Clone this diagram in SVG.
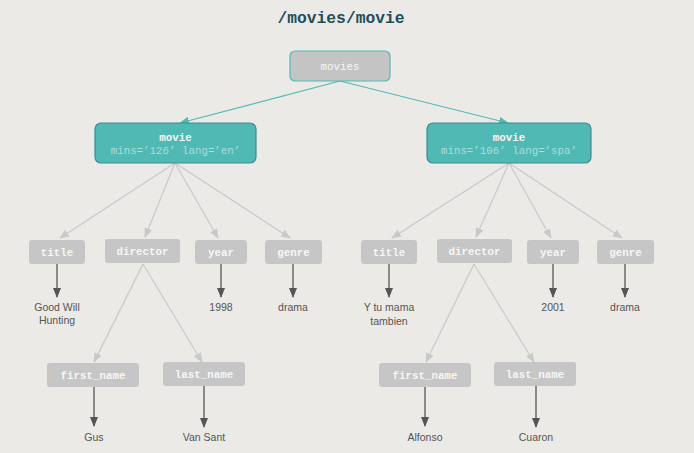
<svg xmlns="http://www.w3.org/2000/svg" width="694" height="453" viewBox="0 0 694 453">
<style>
.bg{fill:#ebeae7}
.title{font-family:"Liberation Mono",monospace;font-weight:bold;font-size:16.3px;fill:#1d4e5a}
.root{fill:#c4c4c4;stroke:#52bab4;stroke-width:1.2}
.movie{fill:#50b9b3;stroke:#3c8d93;stroke-width:1.2}
.box{fill:#c6c6c6}
.mono{font-family:"Liberation Mono",monospace;font-size:10.8px;fill:#f7f7f7;text-anchor:middle}
.b{font-weight:bold}
.attr{font-family:"Liberation Mono",monospace;font-size:10.8px;fill:#a9dedb;text-anchor:middle}
.val{font-family:"Liberation Sans",Arial,sans-serif;font-size:10.5px;fill:#555;text-anchor:middle}
.teal{stroke:#52bab4;stroke-width:1.2;fill:none}
.gray{stroke:#c9c9c9;stroke-width:1.2;fill:none}
.dark{stroke:#555;stroke-width:1.3;fill:none}
</style>
<defs>
<marker id="mt" markerWidth="10" markerHeight="8" refX="9" refY="4" orient="auto" markerUnits="userSpaceOnUse"><path d="M0,0 L10,4 L0,8 Z" fill="#52bab4"/></marker>
<marker id="mg" markerWidth="10" markerHeight="8" refX="9" refY="4" orient="auto" markerUnits="userSpaceOnUse"><path d="M0,0 L10,4 L0,8 Z" fill="#c9c9c9"/></marker>
<marker id="md" markerWidth="10" markerHeight="8" refX="9" refY="4" orient="auto" markerUnits="userSpaceOnUse"><path d="M0,0 L10,4 L0,8 Z" fill="#555"/></marker>
</defs>
<rect class="bg" width="694" height="453"/>
<text class="title" x="341" y="23" text-anchor="middle">/movies/movie</text>

<g id="connectors">
<line class="teal" x1="340" y1="81" x2="180" y2="123" marker-end="url(#mt)"/>
<line class="teal" x1="340" y1="81" x2="508" y2="123" marker-end="url(#mt)"/>
<line class="gray" x1="175" y1="163" x2="60" y2="238" marker-end="url(#mg)"/>
<line class="gray" x1="175" y1="163" x2="145" y2="237" marker-end="url(#mg)"/>
<line class="gray" x1="175" y1="163" x2="218" y2="238" marker-end="url(#mg)"/>
<line class="gray" x1="175" y1="163" x2="290" y2="238" marker-end="url(#mg)"/>
<line class="gray" x1="143" y1="264" x2="94" y2="362" marker-end="url(#mg)"/>
<line class="gray" x1="143" y1="264" x2="202" y2="362" marker-end="url(#mg)"/>
<line class="gray" x1="509" y1="163" x2="392" y2="238" marker-end="url(#mg)"/>
<line class="gray" x1="509" y1="163" x2="476" y2="237" marker-end="url(#mg)"/>
<line class="gray" x1="509" y1="163" x2="551" y2="238" marker-end="url(#mg)"/>
<line class="gray" x1="509" y1="163" x2="622" y2="238" marker-end="url(#mg)"/>
<line class="gray" x1="474" y1="264" x2="426" y2="362" marker-end="url(#mg)"/>
<line class="gray" x1="474" y1="264" x2="534" y2="362" marker-end="url(#mg)"/>
<line class="dark" x1="57" y1="264" x2="57" y2="297" marker-end="url(#md)"/>
<line class="dark" x1="221" y1="264" x2="221" y2="297" marker-end="url(#md)"/>
<line class="dark" x1="293" y1="264" x2="293" y2="297" marker-end="url(#md)"/>
<line class="dark" x1="94" y1="387" x2="94" y2="426" marker-end="url(#md)"/>
<line class="dark" x1="204" y1="386" x2="204" y2="427" marker-end="url(#md)"/>
<line class="dark" x1="389" y1="264" x2="389" y2="297" marker-end="url(#md)"/>
<line class="dark" x1="553" y1="264" x2="553" y2="297" marker-end="url(#md)"/>
<line class="dark" x1="625" y1="264" x2="625" y2="297" marker-end="url(#md)"/>
<line class="dark" x1="425" y1="387" x2="425" y2="426" marker-end="url(#md)"/>
<line class="dark" x1="536" y1="386" x2="536" y2="427" marker-end="url(#md)"/>
</g>

<g id="movies"><rect class="root" x="290" y="51" width="100" height="30" rx="5"/><text class="mono" x="340" y="70">movies</text></g>

<g id="movie1"><rect class="movie" x="95" y="123" width="161" height="40" rx="6"/><text class="mono b" x="175.5" y="141">movie</text><text class="attr" x="175.5" y="154">mins=’126’ lang=’en’</text></g>
<g id="movie2"><rect class="movie" x="427" y="123" width="164" height="40" rx="6"/><text class="mono b" x="509" y="141">movie</text><text class="attr" x="509" y="154">mins=’106’ lang=’spa’</text></g>

<g id="title1"><rect class="box" x="29" y="240" width="56" height="24" rx="3"/><text class="mono b" x="57" y="256">title</text></g>
<g id="director1"><rect class="box" x="105" y="239" width="75" height="24" rx="3"/><text class="mono b" x="142.5" y="255">director</text></g>
<g id="year1"><rect class="box" x="195" y="240" width="52" height="24" rx="3"/><text class="mono b" x="221" y="256">year</text></g>
<g id="genre1"><rect class="box" x="265" y="240" width="57" height="24" rx="3"/><text class="mono b" x="293.5" y="256">genre</text></g>
<g id="first1"><rect class="box" x="47" y="363" width="92" height="24" rx="3"/><text class="mono b" x="93" y="379">first_name</text></g>
<g id="last1"><rect class="box" x="163" y="362" width="82" height="24" rx="3"/><text class="mono b" x="204" y="378">last_name</text></g>

<g id="title2"><rect class="box" x="361" y="240" width="56" height="24" rx="3"/><text class="mono b" x="389" y="256">title</text></g>
<g id="director2"><rect class="box" x="437" y="239" width="75" height="24" rx="3"/><text class="mono b" x="474.5" y="255">director</text></g>
<g id="year2"><rect class="box" x="527" y="240" width="52" height="24" rx="3"/><text class="mono b" x="553" y="256">year</text></g>
<g id="genre2"><rect class="box" x="597" y="240" width="57" height="24" rx="3"/><text class="mono b" x="625.5" y="256">genre</text></g>
<g id="first2"><rect class="box" x="379" y="363" width="92" height="24" rx="3"/><text class="mono b" x="425" y="379">first_name</text></g>
<g id="last2"><rect class="box" x="494" y="362" width="82" height="24" rx="3"/><text class="mono b" x="535" y="378">last_name</text></g>

<g id="values">
<text class="val" x="57" y="311">Good Will</text><text class="val" x="57" y="324">Hunting</text>
<text class="val" x="221" y="311">1998</text>
<text class="val" x="293" y="311">drama</text>
<text class="val" x="94" y="441">Gus</text>
<text class="val" x="204" y="441">Van Sant</text>
<text class="val" x="389" y="311">Y tu mama</text><text class="val" x="389" y="325">tambien</text>
<text class="val" x="553" y="311">2001</text>
<text class="val" x="625" y="311">drama</text>
<text class="val" x="425" y="441">Alfonso</text>
<text class="val" x="536" y="441">Cuaron</text>
</g>
</svg>
